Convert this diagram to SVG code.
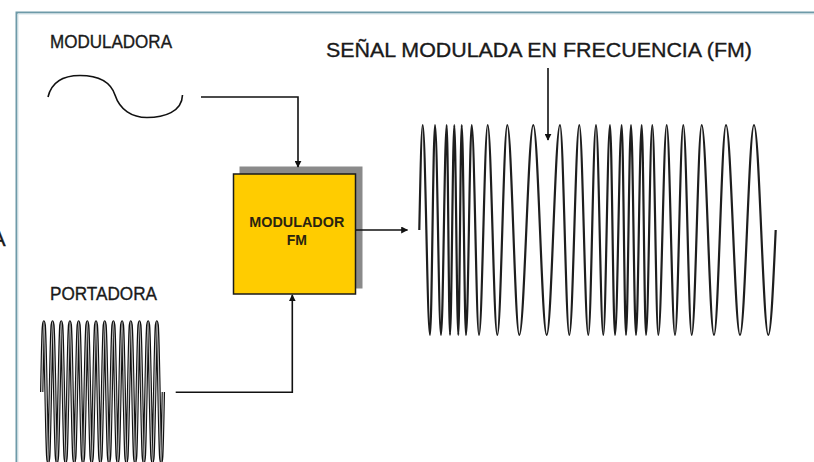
<svg xmlns="http://www.w3.org/2000/svg" width="814" height="462" viewBox="0 0 814 462">
<style>
.lbl{font-family:"Liberation Sans",Arial,sans-serif;fill:#1a1a1a;stroke:#1a1a1a;stroke-width:0.35}
.wire{fill:none;stroke:#111;stroke-width:1.6}
.wave{fill:none;stroke:#1e1e1e;stroke-width:2.2;stroke-linejoin:round}
</style>
<defs>
<marker id="ah" viewBox="0 0 10 10" refX="9" refY="5" markerWidth="7" markerHeight="7" markerUnits="userSpaceOnUse" orient="auto">
<path d="M0,0 L10,5 L0,10 Z" fill="#111"/>
</marker>
<path id="carrier" d="M41.7,392 c0.71,-35.8 1.39,-70 2.17,-70 c1.56,0 2.78,140 4.345,140 s2.78,-140 4.345,-140 s2.78,140 4.345,140 s2.78,-140 4.345,-140 s2.78,140 4.345,140 s2.78,-140 4.345,-140 s2.78,140 4.345,140 s2.78,-140 4.345,-140 s2.78,140 4.345,140 s2.78,-140 4.345,-140 s2.78,140 4.345,140 s2.78,-140 4.345,-140 s2.78,140 4.345,140 s2.78,-140 4.345,-140 s2.78,140 4.345,140 s2.78,-140 4.345,-140 s2.78,140 4.345,140 s2.78,-140 4.345,-140 s2.78,140 4.345,140 s2.78,-140 4.345,-140 s2.78,140 4.345,140 s2.78,-140 4.345,-140 s2.78,140 4.345,140 s2.78,-140 4.345,-140 s2.78,140 4.345,140 s2.78,-140 4.345,-140 s2.78,140 4.345,140 c0.78,0 1.46,-34.2 2.17,-70" fill="none"/>
</defs>
<rect x="0" y="0" width="814" height="462" fill="#fff"/>
<path d="M16.5,462 V12.5 H814" fill="none" stroke="#6e9aa8" stroke-width="2"/>
<path d="M18,462 V14 H814" fill="none" stroke="#d6e4e8" stroke-width="1"/>
<text class="lbl" x="-9" y="246" font-size="22">A</text>

<g id="moduladora">
<text class="lbl" x="50" y="48" font-size="17.5" textLength="122" lengthAdjust="spacingAndGlyphs">MODULADORA</text>
<path d="M48,97 C52,80 66,75.5 80,75.5 C96,75.5 110,80 115,95 C120,110 132,117.5 147,117.5 C164,117.5 182,112 182.5,95" fill="none" stroke="#111" stroke-width="1.6"/>
</g>

<g id="portadora">
<text class="lbl" x="50" y="300" font-size="17.5" textLength="107" lengthAdjust="spacingAndGlyphs">PORTADORA</text>
<use href="#carrier" stroke="#111" stroke-width="3.4"/>
<use href="#carrier" stroke="#c4c4c4" stroke-width="1.3"/>
</g>

<g id="modulador">
<rect x="239.5" y="166.5" width="123" height="122" fill="#8a8a8a"/>
<rect x="233.5" y="174" width="122" height="120" fill="#ffcc00" stroke="#1a1a1a" stroke-width="1.5"/>
<text class="lbl" x="296.8" y="227.3" font-size="14" font-weight="bold" text-anchor="middle" textLength="95" lengthAdjust="spacingAndGlyphs" style="fill:#2a2410;stroke:none">MODULADOR</text>
<text class="lbl" x="296.8" y="245" font-size="14" font-weight="bold" text-anchor="middle" style="fill:#2a2410;stroke:none">FM</text>
</g>

<g id="senal-fm">
<text class="lbl" x="326" y="57.3" font-size="20.5" textLength="426" lengthAdjust="spacingAndGlyphs">SEÑAL MODULADA EN FRECUENCIA (FM)</text>
<path class="wave" d="M419.3,230 C420.4,176.2 421.5,125 422.7,125 C425.3,125 427.4,335 430,335 C431.8,335 433.2,125 435,125 C437.2,125 438.8,335 441,335 C443.1,335 444.6,125 446.7,125 C447.9,125 448.8,335 450,335 C451.5,335 452.8,125 454.3,125 C455.7,125 456.9,335 458.3,335 C459.5,335 460.5,125 461.7,125 C463.3,125 464.5,335 466,335 C468.1,335 469.7,125 471.7,125 C474.3,125 476.4,335 479,335 C482.1,335 484.6,125 487.7,125 C491.2,125 493.8,335 497.3,335 C500.9,335 503.7,125 507.3,125 C511.6,125 515,335 519.3,335 C524.3,335 528.3,125 533.3,125 C538.1,125 541.9,335 546.7,335 C551.5,335 555.2,125 560,125 C563.3,125 566,335 569.3,335 C572.9,335 575.7,125 579.3,125 C582.5,125 585.1,335 588.3,335 C591.1,335 593.2,125 596,125 C598.6,125 600.7,335 603.3,335 C605.7,335 607.6,125 610,125 C611.8,125 613.2,335 615,335 C617.4,335 619.3,125 621.7,125 C623.2,125 624.5,335 626,335 C627.8,335 629.2,125 631,125 C632.8,125 634.2,335 636,335 C638.1,335 639.6,125 641.7,125 C643.2,125 644.5,335 646,335 C648.3,335 650,125 652.3,125 C654.5,125 656.1,335 658.3,335 C661.3,335 663.7,125 666.7,125 C669.7,125 672,335 675,335 C678,335 680.3,125 683.3,125 C686.3,125 688.7,335 691.7,335 C695.3,335 698.1,125 701.7,125 C706.1,125 709.6,335 714,335 C718.3,335 721.7,125 726,125 C731,125 735,335 740,335 C745,335 749,125 754,125 C759.2,125 763.2,335 768.3,335 C771,335 773.3,283.8 775.7,230"/>
</g>

<g id="connectors">
<path class="wire" d="M201,97 H298 V167" marker-end="url(#ah)"/>
<path class="wire" d="M175.7,392.3 H292.3 V295" stroke-width="2" marker-end="url(#ah)"/>
<path class="wire" d="M356,230 H407.5" marker-end="url(#ah)"/>
<path class="wire" d="M548,68 V140" stroke-width="2" marker-end="url(#ah)"/>
</g>
</svg>
